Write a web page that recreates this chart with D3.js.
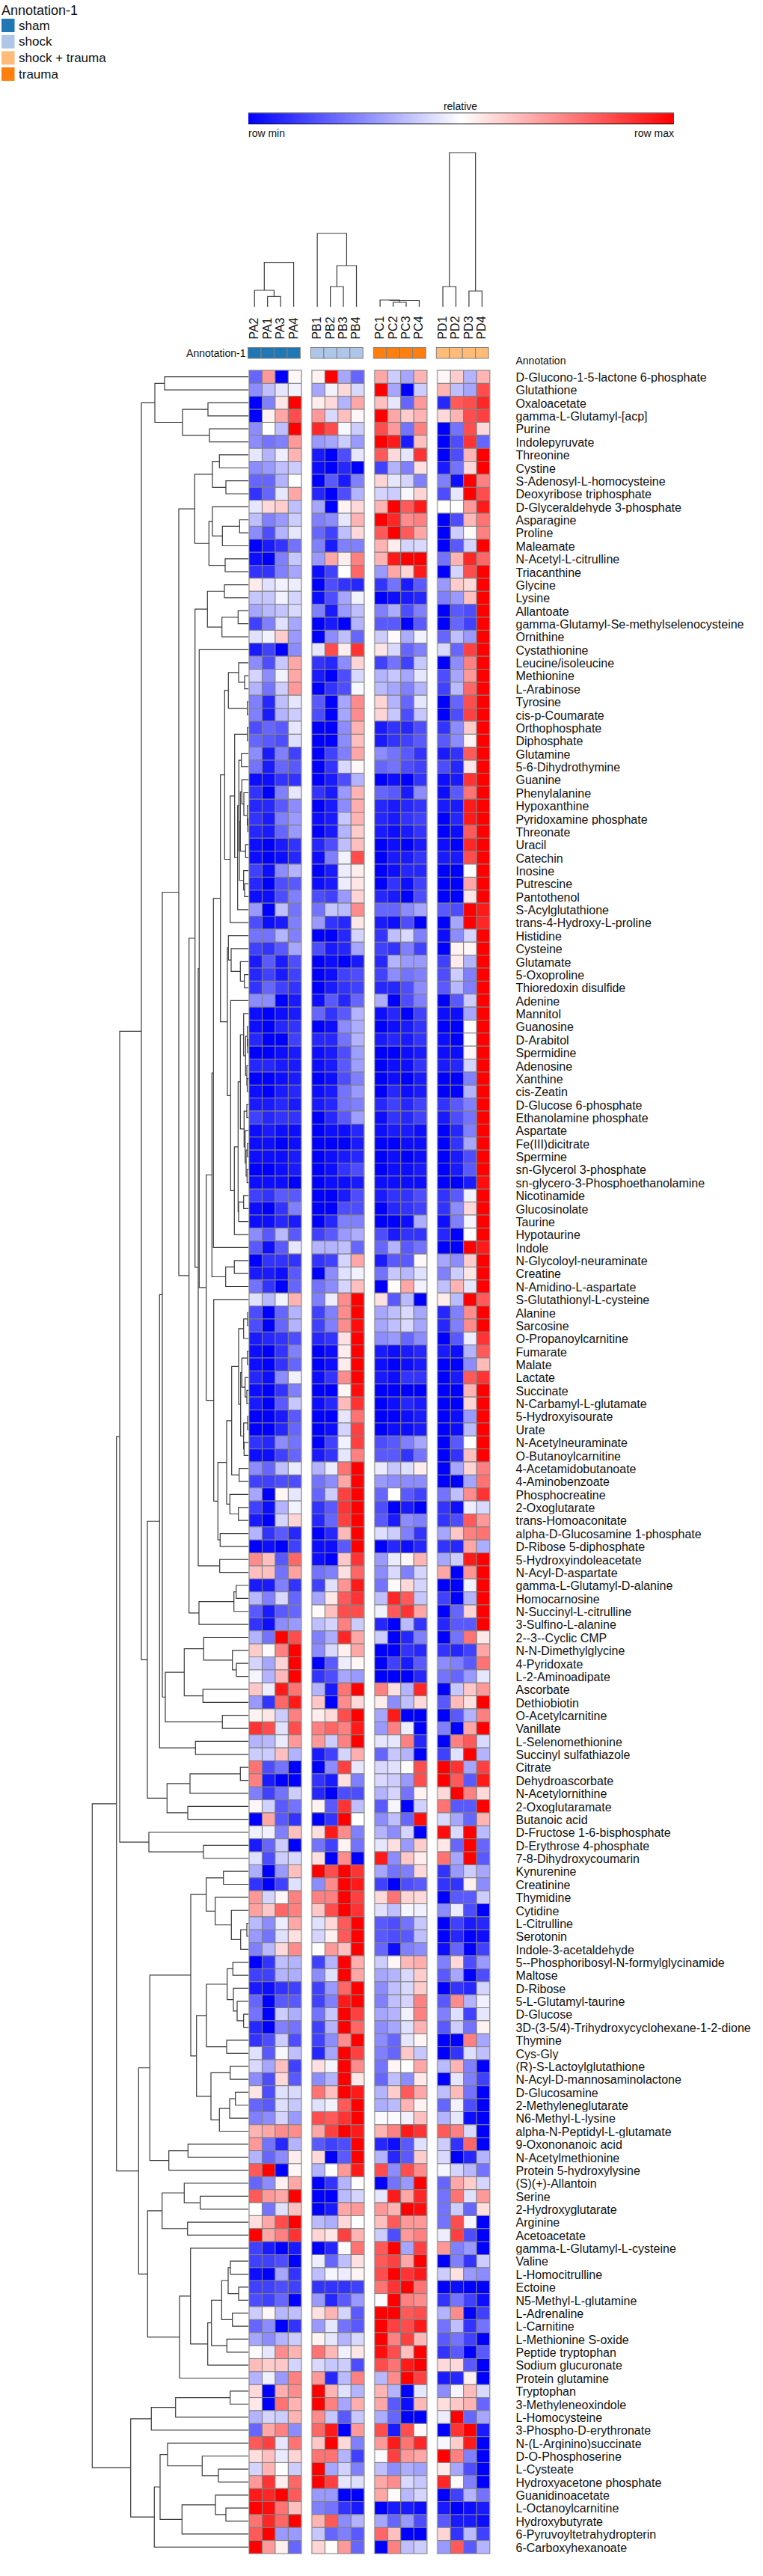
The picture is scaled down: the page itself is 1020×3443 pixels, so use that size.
<!DOCTYPE html>
<html><head><meta charset="utf-8">
<script src="https://cdn.jsdelivr.net/npm/d3@7/dist/d3.min.js"></script>
<style>html,body{margin:0;padding:0;background:#fff}svg{display:block}text{font-family:"Liberation Sans",Arial,sans-serif;fill:#111}</style>
</head><body><div id="chart"></div>
<script>
const legendNames=["sham","shock","shock + trauma","trauma"];
const legendColors=["#1f77b4","#aec7e8","#ffbb78","#ff7f0e"];
const groupNames=["sham","shock","trauma","shock + trauma"];
const columnNames=[["PA2","PA1","PA3","PA4"],["PB1","PB2","PB3","PB4"],["PC1","PC2","PC3","PC4"],["PD1","PD2","PD3","PD4"]];
const rowNames=["D-Glucono-1-5-lactone 6-phosphate","Glutathione","Oxaloacetate","gamma-L-Glutamyl-[acp]","Purine","Indolepyruvate","Threonine","Cystine","S-Adenosyl-L-homocysteine","Deoxyribose triphosphate","D-Glyceraldehyde 3-phosphate","Asparagine","Proline","Maleamate","N-Acetyl-L-citrulline","Triacanthine","Glycine","Lysine","Allantoate","gamma-Glutamyl-Se-methylselenocysteine","Ornithine","Cystathionine","Leucine/isoleucine","Methionine","L-Arabinose","Tyrosine","cis-p-Coumarate","Orthophosphate","Diphosphate","Glutamine","5-6-Dihydrothymine","Guanine","Phenylalanine","Hypoxanthine","Pyridoxamine phosphate","Threonate","Uracil","Catechin","Inosine","Putrescine","Pantothenol","S-Acylglutathione","trans-4-Hydroxy-L-proline","Histidine","Cysteine","Glutamate","5-Oxoproline","Thioredoxin disulfide","Adenine","Mannitol","Guanosine","D-Arabitol","Spermidine","Adenosine","Xanthine","cis-Zeatin","D-Glucose 6-phosphate","Ethanolamine phosphate","Aspartate","Fe(III)dicitrate","Spermine","sn-Glycerol 3-phosphate","sn-glycero-3-Phosphoethanolamine","Nicotinamide","Glucosinolate","Taurine","Hypotaurine","Indole","N-Glycoloyl-neuraminate","Creatine","N-Amidino-L-aspartate","S-Glutathionyl-L-cysteine","Alanine","Sarcosine","O-Propanoylcarnitine","Fumarate","Malate","Lactate","Succinate","N-Carbamyl-L-glutamate","5-Hydroxyisourate","Urate","N-Acetylneuraminate","O-Butanoylcarnitine","4-Acetamidobutanoate","4-Aminobenzoate","Phosphocreatine","2-Oxoglutarate","trans-Homoaconitate","alpha-D-Glucosamine 1-phosphate","D-Ribose 5-diphosphate","5-Hydroxyindoleacetate","N-Acyl-D-aspartate","gamma-L-Glutamyl-D-alanine","Homocarnosine","N-Succinyl-L-citrulline","3-Sulfino-L-alanine","2--3--Cyclic CMP","N-N-Dimethylglycine","4-Pyridoxate","L-2-Aminoadipate","Ascorbate","Dethiobiotin","O-Acetylcarnitine","Vanillate","L-Selenomethionine","Succinyl sulfathiazole","Citrate","Dehydroascorbate","N-Acetylornithine","2-Oxoglutaramate","Butanoic acid","D-Fructose 1-6-bisphosphate","D-Erythrose 4-phosphate","7-8-Dihydroxycoumarin","Kynurenine","Creatinine","Thymidine","Cytidine","L-Citrulline","Serotonin","Indole-3-acetaldehyde","5--Phosphoribosyl-N-formylglycinamide","Maltose","D-Ribose","5-L-Glutamyl-taurine","D-Glucose","3D-(3-5/4)-Trihydroxycyclohexane-1-2-dione","Thymine","Cys-Gly","(R)-S-Lactoylglutathione","N-Acyl-D-mannosaminolactone","D-Glucosamine","2-Methyleneglutarate","N6-Methyl-L-lysine","alpha-N-Peptidyl-L-glutamate","9-Oxononanoic acid","N-Acetylmethionine","Protein 5-hydroxylysine","(S)(+)-Allantoin","Serine","2-Hydroxyglutarate","Arginine","Acetoacetate","gamma-L-Glutamyl-L-cysteine","Valine","L-Homocitrulline","Ectoine","N5-Methyl-L-glutamine","L-Adrenaline","L-Carnitine","L-Methionine S-oxide","Peptide tryptophan","Sodium glucuronate","Protein glutamine","Tryptophan","3-Methyleneoxindole","L-Homocysteine","3-Phospho-D-erythronate","N-(L-Arginino)succinate","D-O-Phosphoserine","L-Cysteate","Hydroxyacetone phosphate","Guanidinoacetate","L-Octanoylcarnitine","Hydroxybutyrate","6-Pyruvoyltetrahydropterin","6-Carboxyhexanoate"];
// relative level per row and column, -10 = row min, +10 = row max
const heatValues=[
[-6,4,-10,0.3,0.5,10,-3.5,-6,3.5,-2,-3.5,3,0.3,2,-3,3],
[-4.5,-2.5,-1,-0.5,-3.5,-0.5,1.5,-1.5,10,-3.5,-10,-2,3,-2.5,-3.5,7],
[-10,-5,1,10,0.7,1.5,-3,3.5,2.5,-1,-6,4,-8.5,6.5,7,8.5],
[-10,0.5,3.5,7,4,-1.5,2.5,0.3,10,3.5,2,3,1.5,3,7,7.5],
[-4.5,0,-2.5,10,8.5,7,-0.3,-2,7,4,-5.5,5,-10,-5.5,7,1.5],
[-4.5,-5.5,-5,4,-4,-3.5,-2,-4,10,9,-9,2.5,-10,-7,8,-6],
[-1,-3,-0.7,3,-9,-10,-7,-1,6.5,1.5,-1,8,-10,-7,3,10],
[-4.5,-4,-2.5,-2,-9.5,-10,-8.5,-10,-7.5,-3,-5,1.2,-9,-5.5,1.5,10],
[-6,-6,-3,0,-10,-6.5,-9,-5,1.7,-1,-1.7,-5,-5,-9.5,10,5],
[-8,-6,-1,3.5,-8.5,-10,-7,-3,-1.7,-2,-0.3,1.7,-7,-1,10,7],
[-1,1.5,2,-2.5,-3.5,-10,0.5,1.5,3,10,6.5,9,0,0,4,9],
[-2.5,-5,-4,-2,-5,-4.5,-1,3,10,8.5,4.5,5,-10,-7,2.8,5.5],
[-4.5,-7,-3,-1,-6,-7.5,-2.5,1.5,6.5,10,6.5,3.5,-10,-2,0.2,5],
[-10,-9,-8,-5.5,-5,-9,-5,-5,3,0.7,-1.7,-1.5,-10,-6.5,-1.7,10],
[-9.5,-10,-5,-2.2,-4,3.5,0.7,5,3,9,10,10,-5.5,3,8.5,6],
[-8,-8,-5,-3.5,-9.5,-7.5,0,6,-4,3.5,1.7,9,-10,-1.7,7,10],
[0.8,-1.2,-0.5,-0.7,-10,-7,-8,-8.5,-8,-5.5,-9,-6.5,-4,2,1.5,10],
[-2.2,-2.2,-0.5,-1.7,-9.5,-7,-3.5,-0.5,-10,-9.5,-9,-8.5,-5,-4,2.5,10],
[-3.5,-2.8,-2.3,-1.5,-5,-9,-4,-2.5,-5,-3.2,-7,-5,-10,-6.5,-7,10],
[-7.5,-5,-1.2,-3.5,-10,-9,-10,-3,-6.5,-6.5,-10,-6.5,-10,-6,-7.5,10],
[-1.2,-0.5,2,-4,-10,-4.5,-2.5,-6,-2,0.2,-3.2,-0.5,-6,-2.5,-4,10],
[-9,-7.5,-10,-4.5,-1,7,0.7,8,1,-1.5,-6,-5,-1.5,-6,7.5,10],
[-4.5,-7,-2.2,3.5,-8,-8.5,-4.5,1.7,-7.5,-5.5,-7.5,-2.2,-10,-4.5,5,10],
[-1.7,-4.5,-0.5,3.5,-9,-10,-7,-1.5,-3,-2.2,-3.5,-1,-7,-3.5,4,10],
[-3,-5.5,-2,4,-10,-8,-7,-0.3,-2.7,-3.5,-5,-3,-7.5,-2.7,6,10],
[-5,-8.5,-2.5,-1,-6.5,-10,-3.5,4.5,1.7,-3,-6,-1,-10,-6,7,10],
[-5,-9,-3,-2,-7,-10,-3.5,4.5,1.7,-2.2,-7,-2.2,-10,-7,7.5,10],
[-7,-6,-6.5,-1,-10,-10,-4.5,3,-9,-8,-8.5,-7,-8,-4.5,2,10],
[-6,-6.5,-7,-1.3,-10,-10,-4.5,2.5,-9,-8,-7.5,-6.5,-6.5,-4.5,0.5,10],
[-4.5,-9,-5,-7.5,-10,-7.5,-5,3.5,-4.5,-5.5,-6.5,-8,-9,-8,6.5,10],
[-5.5,-9,-6,-6.5,-10,-8,-1.5,0.3,-6,-5.5,-7,-7.5,-7,-8.5,1,10],
[-9.5,-9.5,-8,-8,-10,-9,-7,-3,-10,-9.5,-10,-8,-9.5,-9,8,10],
[-8,-10,-5,-1,-8,-9,-4,3,-6,-6.5,-9,-4.5,-9.5,-6.5,5.5,10],
[-8.5,-8.5,-6.5,-4.5,-10,-9,-4.5,3.2,-8.5,-9,-8.5,-8,-9,-9,9,10],
[-8,-9,-5,-4,-9.5,-9,-2.2,3,-8.5,-9,-8,-7.5,-10,-8.5,9,10],
[-8.5,-9,-6,-4,-10,-9,-3,2,-9,-9.5,-9,-8,-10,-9.5,6.5,10],
[-9.5,-10,-9,-8,-8.5,-7,-2.5,2.5,-10,-9.5,-10,-9,-9.5,-10,8.5,10],
[-9.5,-10,-9.5,-8.5,-9.5,-5,-0.5,7,-10,-9,-9,-8,-9,-9,7,10],
[-7.5,-9.5,-4.5,-3,-10,-9,-0.7,0.7,-10,-9.5,-8.5,-8.5,-10,-10,0,10],
[-8.5,-10,-7,-6.5,-9.5,-9,-0.7,1,-10,-8,-9.5,-7.5,-10,-10,3.5,10],
[-9.5,-9.5,-7,-5,-7,-7.5,-4,1.7,-8.5,-9,-10,-7,-10,-10,1,10],
[-4,-10,-2.5,-5.5,-5.5,-2.2,-2.7,4.5,-6,-6,-4.5,-3.5,-6.5,-7,10,9],
[-7,-9.5,-9,-5,-4,-8,-8.5,1,-9,-9.5,-7,-10,-10,-3.5,10,8.5],
[-5.5,-5.5,-3,-5,-10,-10,-8.5,-1.7,-8,-2.5,-1.5,-5,-9.5,-4.5,-1.7,10],
[-7.5,-8,-6.5,-3.5,-7,-9,-8.5,-3.5,-7.5,-8,-5,-7.5,-10,0.5,0.3,10],
[-9,-6.5,-9,-7,-10,-9.5,-10,-9,-8.5,-3,-4,-4,-7.5,0.8,-3,10],
[-8.5,-7.5,-9,-7.5,-10,-9.5,-7.5,-7,-7.5,-4.5,-5.5,-5,-7,-2,-5,10],
[-8,-6,-7.5,-8,-10,-9,-8,-7.5,-8.5,-8.5,-7,-4.5,-6.5,-2.8,-5,10],
[-4.5,-4.5,-10,-9,-9.5,-6.5,-8.5,-6,-3.2,-10,-7,-5,-10,-6.5,-2,10],
[-9.5,-10,-9.5,-9,-6,-8,-6.5,-3,-9.5,-8.5,-10,-7.5,-9.5,-9.5,-3.5,10],
[-9.5,-10,-8.5,-8,-10,-9.5,-4.5,-3.2,-10,-9.5,-9,-8,-10,-10,0.1,10],
[-8.5,-10,-10,-7.5,-8.5,-8.5,-5.5,-3,-9,-8.5,-9,-8,-9.5,-10,0,10],
[-10,-10,-9.5,-9,-9.5,-9,-7,-3.8,-10,-10,-9.5,-9,-9.5,-9.5,0.3,10],
[-8.5,-8.5,-9,-9,-9.5,-9,-6.5,-3.8,-10,-9.5,-9.5,-8,-9,-8.5,-1.7,10],
[-10,-10,-9.5,-9,-10,-9.5,-7,-5,-10,-9.5,-10,-9,-10,-10,-5,10],
[-9.5,-10,-9,-8.5,-9.5,-9,-5.5,-4,-10,-8.5,-9.5,-9,-10,-10,-3,10],
[-9,-9,-8.5,-9,-9,-8.5,-5.5,-5,-8.5,-7.5,-8.5,-7.5,-8,-6.5,-5,10],
[-7.5,-8.5,-8,-8,-10,-8.5,-6.5,-3.8,-9.5,-8,-8.5,-7.5,-9,-7,-5.5,10],
[-9.5,-9,-9.5,-9.5,-10,-9.5,-9.5,-8.5,-9.5,-9,-9,-9.5,-10,-8.5,-5,10],
[-9.5,-9.5,-10,-9.5,-10,-10,-10,-9,-10,-10,-9.5,-9.5,-10,-8,-3.5,10],
[-9.5,-9.5,-9.5,-9,-10,-9.5,-9,-8.5,-10,-9.5,-10,-9.5,-10,-9,-7,10],
[-10,-10,-9.5,-9,-10,-9.5,-8,-7,-10,-9.5,-9.5,-9,-10,-9,-6.5,10],
[-9.5,-9.5,-9.5,-10,-10,-9.5,-9.5,-9,-9.5,-9.5,-9.5,-9.5,-10,-10,-9,9.5],
[-7.5,-8,-6.5,-6.5,-10,-10,-9,-7,-9,-8,-8,-7,-8,-6.5,-0.5,10],
[-9.5,-10,-8,-5,-10,-10,-7,-7,-10,-8.5,-8,-7.5,-8,-4.5,1.5,10],
[-9.5,-9.5,-8.5,-9,-10,-8.5,-5,-5,-10,-10,-9.5,-3.2,-9.5,-5,-0.4,10],
[-4.5,-6.5,-2.8,-6.5,-7.5,-6.5,-4,-3.2,-7,-9,-8,-8,-8.5,-10,0,10],
[-6.5,-9.5,-6.5,-1,-3,-3,-2.5,-6,-6,-3,-6.5,-5.5,-10,-10,10,9],
[-10,-8,-8,-8,-8,-7.5,-1.7,3.5,-9,-6.5,-6.5,0.3,-3.5,-4.5,2,10],
[-9,-9,-9.5,-6.5,-10,-4.5,-1.2,-0.5,-5.5,-2.2,-2.8,-1.2,-5,-2,1,10],
[-5.5,-8,-10,-6,-5.5,-4.5,-1.7,2.5,-10,0.1,3.5,-0.5,-2.5,3,-1,10],
[-1.2,-2.8,-0.5,3,-5,-0.7,4.5,10,1.2,-6.5,-2.7,-10,0.8,-2.7,10,6.5],
[-7,-10,-6,-3,-7.5,-5,4.5,10,-3.5,-2.5,-1.5,-3.5,-8.5,-5,4.5,10],
[-7,-10,-6,-3,-7.5,-5,4.5,9.5,-3.5,-2.5,-1.5,-3.5,-8.5,-5,4.5,10],
[-9,-8.5,-8,-7,-8.5,-8,1.2,10,-4.5,-4,-6,-4.5,-10,-6.5,-0.7,8],
[-9.5,-10,-8,-5,-10,-9.5,0.7,10,-9,-9.5,-9,-8.5,-9,-9.5,-3,6.5],
[-9.5,-10,-8,-6,-10,-9.5,0.8,10,-9.5,-10,-9.5,-9,-10,-10,-4.5,2.7],
[-8.5,-9.5,-4.5,-0.6,-9.5,-8,4.5,10,-9,-9.5,-8,-8,-10,-9,6.5,8],
[-9.5,-10,-8,-5,-10,-10,0.4,9.5,-10,-10,-10,-10,-10,-10,3,10],
[-9,-10,-6.5,-2.2,-9.5,-8.5,2.7,8,-10,-9.5,-8.5,-9,-10,-10,1.7,10],
[-10,-10,-9,-6.5,-10,-10,-1,5.5,-10,-10,-9.5,-9,-10,-9.5,-4,10],
[-10,-10,-8.5,-6,-10,-9.5,-1.7,7.5,-10,-9.5,-9.5,-9,-10,-9.5,-2.7,10],
[-8,-8.5,-4.5,-5.5,-10,-7.5,-0.5,7.5,-7,-6.5,-5,-3.5,-10,-6.5,0,10],
[-9.5,-9.5,-7.5,-6,-9,-8,-1,5,-6.5,-6.5,-8,-5.5,-10,-8,2.5,10],
[-4.5,-6,-2.5,-0.8,-3,-0.8,5.5,10,-0.8,-2.2,-1.3,0.7,-10,-3.5,1.7,5],
[-7.5,-7.5,-7,-7,-5.5,-4.5,3.5,10,-4,-4.5,-4.5,-4.5,-10,-10,-3.5,5.5],
[-3.5,-10,0.3,-1,-6,-2,7.5,10,-6,0,-6.5,-7.5,-5.5,-2.5,4.5,8],
[-7.5,-9.5,-3,-0.5,-8,-6.5,8,10,-7,-10,-9,-10,-8,-9.5,-0.7,-1.5],
[-9,-10,-1.7,1.7,-8.5,-6,7.5,10,-6.5,-9,-4.5,-5,-8,-7,6.5,4],
[-3,-8,-6.5,-8.5,-10,-8.5,2.8,10,-1.3,-2,-5,-8,-3.5,2.2,5,5.5],
[-10,-9.5,-10,-7.5,-9.5,-9.5,-6.5,10,-10,-8.5,-9.5,-8.5,-8,-8.5,3.5,-3.2],
[4.5,2.5,-6.5,6,-9.5,-10,2.2,8,-4,-0.8,0.4,3,-3.5,-2,9,10],
[2.5,2.5,-5.5,3.7,-5.5,-5,1.2,6,-4.5,-1.5,-5,-1.7,3.5,-10,4.2,10],
[-9,-9,-5,-8,-7.5,-1.2,4.2,9,-5.5,0.2,1.5,-1.7,-10,-10,-0.5,10],
[-2.8,-5,-1.5,-6,-3.5,0.9,6.5,8,-2.5,8.5,6.5,-2.2,-7.5,-10,-3,10],
[-6.5,-9,-6.5,-6,0.2,2.5,7,7,-0.6,6.5,8,3.5,-10,-6,1.7,10],
[-8,-9.5,-4.5,-4,-2.5,-1.7,5,-2,-8.5,-10,-2.7,-8,-8.5,-6.5,-6.5,10],
[-3,-5.5,10,7,-5,-3.2,8.5,3.5,-2,-10,-8.5,-5,-10,-5.5,5.5,0.9],
[2,0.2,5,10,-4.5,-1.5,0.6,3.5,-10,-10,-8,-8.5,-8,-8.5,-7.5,3.5],
[-1.7,-3.5,1.7,10,-10,-6.5,-0.7,0.3,-10,-7.5,-9,-6.5,-4.5,-5,-6.5,5.5],
[-0.4,-3,2.8,10,-8,-7,-3.5,-4,-10,-10,-10,-8.5,-5.5,-6,-4,-1],
[2.2,-0.7,9,5.5,-3,-9,5.5,10,5,1.2,-3,8.5,-10,-2.2,2.2,4],
[-4,-8,6,9,2.2,-10,4.5,1.5,0.7,-4.5,-2.5,1.5,-6.5,2.7,1.2,10],
[0.5,1,-2,5,0.7,1.5,7,10,-3.5,9,-10,-10,-10,-6.5,-3,5],
[8,7,-1.2,7,5,6,5,9,-4,5,-0.7,-10,-5,-10,3.5,10],
[-3,-2.8,-0.8,4,4,-2,5,10,-1,-1,5,-8.5,-10,5,6.5,-1.5],
[-2,-2,2.5,-3,-9,-7.5,-1.7,3.2,-6,-2.2,-3,-10,-7.5,-1.2,10,-3],
[5.5,-7,-5.5,-10,-10,-4.5,7.5,-1,-1.5,-1.2,0,7,10,8,-3.5,7.5],
[5,-9,-10,-10,-8,-9,1.2,-5,-1.5,-2,-4,7,10,6.5,-6.5,9],
[-5,-7.5,-5.5,-2,-8.5,-10,-7,-7,-3,-1.7,-5.5,0.5,1.5,10,5,1.5],
[0.3,-1.8,-6.5,-5.5,0.5,-6.5,8,-2.5,-6.5,-0.4,-10,-1.8,5.5,-6.5,-6.5,10],
[-10,3.5,-6.5,-8,-10,-8,10,0,-4.5,-2.5,-6,9.5,-1.5,-3.5,-6,3],
[-0.6,-0.6,-5,2.5,1.3,9,4.5,-5,-3,-4.5,-1.7,-10,9.5,-1.5,10,-2.7],
[-9,-6,-2,-10,-5.5,-7.5,0.5,-5.5,-1,1.3,-4,2,0.9,-6,10,-6],
[-1.2,-7,-2,-1.5,1.2,-10,4.5,-10,9,-4.5,2.2,0.7,5.5,-3.5,10,-6.5],
[-3.2,-10,-4,2.5,10,7,10,8,-3.5,-5.5,-5,1.5,-8,-4,-2,-3.5],
[-8,-10,-7.5,-1.2,-4.5,4.5,10,9,-7.5,-10,-7,-6.5,-8,-8,0.6,-4.5],
[4,-1.7,0.3,5,5,5,10,7.5,1.5,5.5,1.7,1.5,-10,-6.5,-6.5,-2],
[3.7,2.2,6,5,2.2,7,10,8,-1.2,-2.5,-0.4,-0.6,-4.5,-0.8,-7,-10],
[-2.7,-4.5,-0.7,3.5,-1.2,1.5,6.5,10,-6.5,-7,-5.5,-2.2,-10,-7.5,-9,-8.5],
[-4,-5.5,-1.2,1.2,-1.7,0.6,6.5,10,-6.5,-7,-6.5,-2.5,-10,-8.5,-10,-9.5],
[-5,-2.8,1.5,4.5,0.1,4,2.5,10,-6,-9.5,-5,-4.5,-9.5,-6,-10,-7.5],
[-10,-8,-2.5,-3,-7.5,-3,10,3.2,-2,0.3,2.8,3.2,-5,1.5,-7,-4],
[-7.5,-7.5,-3,-3.2,-4.5,-1.2,10,3.5,-3.5,-3,-1.5,2,-6.5,-3.5,-10,-7],
[-9,-9.5,-8,-7.5,-7.5,-4,6,10,-4.5,-2.5,-1.5,2,-10,-8,-8.5,-1.7],
[-6,-10,-6.5,-6.5,-7.5,-5,9,10,-5,-2.5,-1.7,5,-6.5,4.5,-3,-0.6],
[-5.5,-10,-2,-3.2,-5.5,-2.2,10,7.5,-3.5,-3,-0.6,5,-5,-1.3,-7.5,-1],
[-8.5,-10,-5,-5.5,-7.5,-3,10,6,-4.5,-3.5,-1.2,3,-6.5,-2,-5.5,0.5],
[-8,-7,-2,-7,-7.5,-4.5,4.5,10,-4.5,-6,-1,0.4,-10,-10,5,-3.5],
[-1.2,-6.5,-0.3,-2.5,-8.5,-3.5,10,7.5,-5,-6,2.2,-2.2,-10,-8,-1.3,-2.5],
[-1.5,-3.5,2.5,-7.5,1.2,-0.4,10,4.5,-5.5,0.4,0,3.5,-2.7,3,-5,-10],
[-4.5,-7,1.5,-6.5,-4.5,-3,10,1,-6,-2.5,-4.5,0.9,-10,-1,-5,-7.5],
[1,-7,-1.2,-1.5,5.5,2.5,10,9,-3,2,6.5,3.5,-2.5,2.7,-5.5,-10],
[-6,-6.5,-1.3,-2.2,-1.2,-0.5,6.5,10,-3.2,-2.7,3,0.5,-6,-0.5,-7,-10],
[-5,-4.5,-1.7,-4,7,6.5,8,10,-0.2,-0.2,-0.6,2.5,-3,-1,-9.5,-10],
[3,3.5,4.5,4.5,3.5,7.5,10,9,3,5,9,8,6.5,5,-1.5,-10],
[4,-5.5,-8.5,-3,-6.5,-7.5,-7,10,-8.5,-9.5,-6.5,-1.2,-2,-8,6,-10],
[-3,-6,-4.5,0.7,1.5,-10,-6.5,10,-3,-8.5,-6.5,2,-1.5,-10,-8.5,-3],
[6.5,10,-10,0.3,-3,0.1,4,9,7,-4.5,7,4.5,-0.4,-1.7,-2.8,-5.5],
[-6,-4.5,0.6,3.5,-10,-8,-3,0.1,-10,-5.5,-4,10,-6,3.5,2,-1.7],
[6.5,4,3.5,10,-10,-10,-2.7,-1.7,-1,9,3.5,8.5,-5.5,5.5,-1.2,4],
[0,-5.5,-1.2,2.5,-10,-9,3.5,4,4,3,10,9.5,-5.5,-2,-6,1.3],
[1.3,3.5,7,10,-2.7,-3.2,1.5,0,2.5,6.5,4,4,-5.5,7,-0.4,-10],
[10,3.5,5,8,1.7,1,7.5,3,-2,-7,4,5,-0.7,7.5,-7,-10],
[-7.5,-9,-10,-9,-10,-8.5,-0.2,5.5,6.5,10,-3.5,7.5,4,-5,-4,-10],
[-7.5,-7.5,-7,-10,-0.7,-6,-2.5,1.2,6.5,7.5,3.5,10,-10,-5,-8,-2],
[-9.5,-10,-3.5,-8,-2.5,-0.4,-0.7,0.4,7,10,8,9,-2,1.2,-4,-4.5],
[-7.5,-7.5,-7,-7.5,-8,-8,-8,-7.5,5.5,8,10,5.5,-10,-9.5,-10,-10],
[-7,-7.5,-6,-10,-4,-8.5,-6.5,-4,-0.2,10,5,4.5,-8,-5.5,-7.5,-9.5],
[-2,0.3,-2.8,-2.5,1.2,3,-1.7,-6.5,10,10,6.5,7,-3,4.5,-10,-7.5],
[-6,-4.5,-10,-8,-4,-1,-5.5,-6.5,10,7.5,7,9,-5.5,-2.5,-8,-5.5],
[-3.5,-4.5,-3,-2,0.5,-1,-3,-1.5,10,5,7.5,2.8,-6.5,-5.5,-7.5,-10],
[-0.2,-1,4.5,3,5.5,2.8,-0.6,1,9.5,7,2.5,10,-8,-6.5,-10,-6.5],
[2.7,2,2.2,-1.7,-1.5,-2.2,-2,-7,7,5.5,9,10,1.5,1.5,-6.5,-10],
[-3,-0.6,-4,5,4,-8.5,-2.7,5,-2.8,4.5,10,7.5,-9,-8.5,0.6,-10],
[1.5,-10,3.2,4.5,10,3,-1.2,-3,3,-3,-10,-1,-4.5,-0.4,2.7,-1.5],
[0.9,-10,5.5,3,10,5,-3.5,3.2,3.5,-6.5,-9.5,2.8,1.3,2.2,3,-6],
[-3,-1.7,-2,3,4.5,-2.2,-6.5,-2.2,-3.2,-6,-10,-10,-0.7,10,-6,-3.5],
[-6,3.5,5,-4.5,6,9,-10,4,7,-9,7,0.3,-10,8,10,-9],
[6.5,7.5,-1,5.5,2.2,10,1.5,-5,4,9,5.5,8.5,-0.3,2,9,-10],
[1.3,2.5,-0.8,1.7,5.5,5.5,-3,-7.5,-0.2,7.5,4,3.5,10,5,-5,-10],
[-1.7,3,0,-2,10,-3.5,-1.8,-5,-2.5,-4.5,-3.2,-3.7,0.9,-3.5,-7,-10],
[4,8,0.7,6,10,7.5,-1,-1.3,3.5,4.5,-1.5,-2.2,8.5,0.2,-5,-10],
[9,8.5,10,6.5,-4,-4,-10,-10,3.5,0.2,-2.8,-1.7,-10,-7.5,-3,-5.5],
[10,9.5,5.5,2.5,-5,-5.5,-8,-9,-10,-9,-9,-9.5,-9,-10,-9.5,-9],
[5.5,8.5,6,10,3,6.5,-4.5,-3,-3.5,-6,-4,-7,-6.5,-9,-9,-9.5],
[6.5,10,-4,-4,-2.2,-6,-5,-6.5,6,2.5,-10,-10,1.7,-8,-2.7,-7.5],
[10,4,0.6,-6,1.7,0.1,4,-6,-10,5,-2.5,-2,-4,6.5,-6.5,-3]
];
// dendrogram over the rows: [merge height, child, child]; a bare number is a row index
const N=(h,a,b)=>[h,a,b];
const rowTree=N(208.7,
 N(176.3,
  N(172,
   N(143,
    N(125,N(112,0,1),N(88,N(54,2,3),N(52,4,5))),
    N(135,
     N(118.7,
      N(115,
       N(93,
        N(71.7,
         N(48,N(38.7,6,7),N(30,8,9)),
         N(52.7,N(48,10,N(34.7,N(11.7,11,12),13)),N(31,14,15))),
        N(79.3,
         N(71.3,
          N(54.7,N(32,16,17),N(35.3,N(13.7,18,19),20)),
          N(67,
           N(65.7,21,
            N(56.3,
             N(48.7,
              N(46.7,
               N(37.3,
                N(31.7,
                 N(26.7,N(13,22,N(5,23,24)),N(1.3,25,26)),
                 N(24.3,
                  N(18.3,N(1.3,27,28),
                   N(14.3,
                    N(12.7,N(9.3,29,30),
                     N(12,
                      N(10.7,N(8.7,31,N(6,32,N(1.3,33,N(0.7,34,35)))),N(3.7,36,37)),
                      N(6.3,38,N(5,39,40)))),
                    41)),
                  42)),
                N(28,
                 N(26.7,43,N(23,44,N(10.7,45,N(5.3,46,47)))),
                 N(23.7,48,
                  N(18.7,
                   N(13.7,
                    N(10.7,
                     N(6.3,49,N(3.7,N(1.3,50,N(1,51,52)),N(2,53,N(1.5,54,55)))),
                     N(5.7,N(2,56,57),N(4.3,58,N(3,N(1.2,59,60),N(1.7,61,62))))),
                    N(13,N(6.3,63,64),65)),
                   66)))),
               67),
              N(30.3,N(18.7,68,69),70)),
             N(46.3,71,
              N(40.7,
               N(29,
                N(22.3,
                 N(13,
                  N(6.3,N(1,72,73),74),
                  N(10.3,N(8.7,N(1.3,75,76),N(4.3,77,N(2,78,79))),N(6.3,N(1,80,81),N(5.7,82,83)))),
                 N(12.3,84,85)),
                N(24.7,86,N(13.3,87,88))),
               N(37.7,89,90))))),
           N(38.3,91,92))),
         N(66,N(19.3,N(16.3,93,94),95),96))),
       N(111,N(85.7,N(59.7,97,N(21.3,98,N(16,99,100))),N(60.7,101,102)),N(34.7,103,104))),
      N(70.7,105,106)),
     N(108.7,N(78,N(10.7,107,108),109),N(81,110,111)))),
   N(133,112,N(60,113,114))),
  N(146.7,
   N(131.7,
    N(77,
     N(56.3,N(33.3,115,116),N(44.3,117,N(22.7,118,N(10.3,N(2,119,120),121)))),
     N(69.3,
      N(56,N(28.3,N(20.7,122,123),N(20,124,N(15,125,N(6.3,126,127)))),N(29,128,129)),
      N(50,N(24.3,130,131),N(38.7,N(25,N(17.3,132,133),134),135)))),
    N(106.3,N(80.7,136,137),138)),
   N(134.7,
    N(115.3,N(85.7,139,N(64.3,140,141)),N(81.3,142,143)),
    N(92,
     N(77.3,144,
      N(54.3,
       N(49.3,
        N(35.7,N(27,N(24,145,146),N(13,147,148)),N(21.3,149,150)),
        N(28.7,151,152)),
       153)),
     154)))),
 N(157.3,
  N(129.7,N(97.3,N(24.3,155,156),157),158),
  N(125.7,
   N(118,
    N(108,159,N(61.7,160,N(40,161,162))),
    N(88.7,N(44,163,N(30,164,165)),166)),
   167)));
// dendrograms over the columns of each group, merge height and column index inside the group
const colTrees=[
 N(59.3,N(22,0,N(13.6,1,2)),3),
 N(98,0,N(55,N(27,1,2),3)),
 N(8.5,N(9,0,N(6,1,2)),3),
 N(206,N(27,0,1),N(21,2,3))
];

const W=1020,H=3443;
const cell=17.45, rowTop=495, rowBottom=3413, headerShift=-1.5;
const svg=d3.select("#chart").append("svg").attr("width",W).attr("height",H);
svg.append("rect").attr("width",W).attr("height",H).attr("fill","#fff");

const color=d3.scaleLinear().domain([-10,0,10]).range(["#0000ff","#ffffff","#ff0000"]);
const y=d3.scaleBand().domain(d3.range(rowNames.length)).range([rowTop,rowBottom]);
const gx=d3.scalePoint().domain(d3.range(4)).range([333,584.8]);
const cx=d3.scaleBand().domain(d3.range(4)).range([0,cell*4]);

// legend
svg.append("text").attr("x",2).attr("y",19.5).attr("font-size",18).text("Annotation-1");
const lg=svg.selectAll("g.lg").data(legendNames).join("g").attr("transform",(d,i)=>`translate(0,${25+i*21.7})`);
lg.append("rect").attr("x",2).attr("width",17.5).attr("height",18).attr("fill",(d,i)=>legendColors[i]);
lg.append("text").attr("x",25).attr("y",14.5).attr("font-size",17).text(d=>d);

// colour bar
const grad=svg.append("defs").append("linearGradient").attr("id","bar");
[["0%","#0000ff"],["50%","#ffffff"],["100%","#ff0000"]].forEach(s=>grad.append("stop").attr("offset",s[0]).attr("stop-color",s[1]));
svg.append("rect").attr("x",332).attr("y",151).attr("width",569).attr("height",15).attr("fill","url(#bar)");
svg.append("line").attr("x1",332).attr("x2",901).attr("y1",150.8).attr("y2",150.8).attr("stroke","#777").attr("stroke-width",1.2);
svg.append("line").attr("x1",332).attr("x2",901).attr("y1",165.7).attr("y2",165.7).attr("stroke","#111").attr("stroke-width",1);
svg.append("text").attr("x",615.5).attr("y",147).attr("font-size",14).attr("text-anchor","middle").text("relative");
svg.append("text").attr("x",332).attr("y",183).attr("font-size",14).text("row min");
svg.append("text").attr("x",901).attr("y",183).attr("font-size",14).attr("text-anchor","end").text("row max");

// column dendrograms, labels, annotation bar
const colH=d3.scaleLinear().domain([0,206]).range([410,204]);
const line="#3a3a3a";
colTrees.forEach((t,g)=>{
  const root=d3.hierarchy(t,d=>Array.isArray(d)?d.slice(1):null);
  const colX=i=>gx(g)+cx(i)+cx.bandwidth()/2+headerShift;
  root.eachAfter(n=>{n.px=n.children?d3.mean(n.children,c=>c.px):colX(n.data);n.py=n.children?colH(n.data[0]):colH(0);});
  svg.append("g").selectAll("path").data(root.descendants().filter(n=>n.children)).join("path")
    .attr("fill","none").attr("stroke",line).attr("stroke-width",1.2)
    .attr("d",n=>`M${n.children[0].px},${n.children[0].py}V${n.py}H${n.children[1].px}V${n.children[1].py}`);
  columnNames[g].forEach((name,i)=>{
    const x0=gx(g)+cx(i)+headerShift;
    svg.append("text").attr("transform",`translate(${x0+13.7},453.6) rotate(-90)`).attr("font-size",16).text(name);
    svg.append("rect").attr("x",x0).attr("y",464.5).attr("width",cell).attr("height",14.5)
      .attr("fill",legendColors[legendNames.indexOf(groupNames[g])]).attr("stroke","#808080").attr("stroke-width",1);
  });
});
svg.append("text").attr("x",328.5).attr("y",477).attr("font-size",14).attr("text-anchor","end").text("Annotation-1");
svg.append("text").attr("x",689.5).attr("y",487).attr("font-size",14).text("Annotation");

// heat map
const heat=svg.append("g");
heatValues.forEach((row,r)=>{
  heat.selectAll(null).data(row).join("rect")
    .attr("x",(v,i)=>gx(Math.floor(i/4))+cx(i%4)).attr("y",y(r))
    .attr("width",cx.bandwidth()).attr("height",y.bandwidth())
    .attr("fill",v=>color(v)).attr("stroke","#808080").attr("stroke-width",1);
});
d3.range(4).forEach(g=>{
  svg.append("rect").attr("x",gx(g)-0.5).attr("y",rowTop-0.5).attr("width",cell*4+1).attr("height",rowBottom-rowTop+1)
   .attr("fill","none").attr("stroke","#b4b4b4").attr("stroke-width",1);
});

// row dendrogram
const rowH=d3.scaleLinear().domain([0,208.7]).range([332,123.3]);
const rRoot=d3.hierarchy(rowTree,d=>Array.isArray(d)?d.slice(1):null);
rRoot.eachAfter(n=>{n.py=n.children?d3.mean(n.children,c=>c.py):y(n.data)+y.bandwidth()/2;n.px=n.children?rowH(n.data[0]):rowH(0);});
svg.append("g").selectAll("path").data(rRoot.descendants().filter(n=>n.children)).join("path")
  .attr("fill","none").attr("stroke",line).attr("stroke-width",1.2)
  .attr("d",n=>`M${n.children[0].px},${n.children[0].py}H${n.px}V${n.children[1].py}H${n.children[1].px}`);

// row labels, clipped to their row so descenders are cut as in the reference
const defs=svg.select("defs");
rowNames.forEach((name,r)=>{
  defs.append("clipPath").attr("id","rc"+r).append("rect").attr("x",680).attr("y",y(r)).attr("width",340).attr("height",y.bandwidth());
  svg.append("text").attr("clip-path",`url(#rc${r})`).attr("x",689.5).attr("y",y(r)+y.bandwidth()-2.4).attr("font-size",16).text(name);
});
</script></body></html>
